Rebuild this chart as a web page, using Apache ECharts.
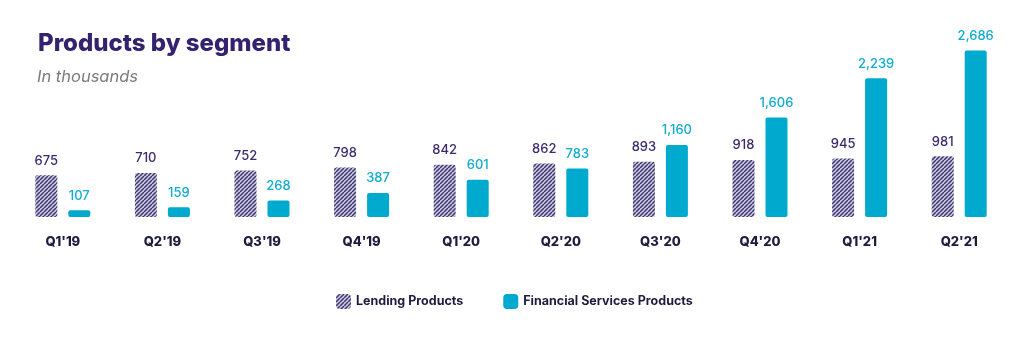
<!DOCTYPE html>
<html>
<head>
<meta charset="utf-8">
<script src="https://cdn.jsdelivr.net/npm/echarts@6/dist/echarts.min.js"></script>
<style>
  html, body { margin: 0; padding: 0; background: #fff; }
  #chart { width: 1033px; height: 354px; }
</style>
</head>
<body>
<div id="chart"></div>
<script>
const quarters = ["Q1'19", "Q2'19", "Q3'19", "Q4'19", "Q1'20", "Q2'20", "Q3'20", "Q4'20", "Q1'21", "Q2'21"];
const lending = [675, 710, 752, 798, 842, 862, 893, 918, 945, 981];
const financial = [107, 159, 268, 387, 601, 783, 1160, 1606, 2239, 2686];

// striped fill for lending bars
function makeStripes() {
  const s = 4;
  const c = document.createElement("canvas");
  c.width = s;
  c.height = s;
  const ctx = c.getContext("2d");
  ctx.fillStyle = "#cfcde0";
  ctx.fillRect(0, 0, s, s);
  ctx.strokeStyle = "#3e3673";
  ctx.lineWidth = 1.5;
  for (let i = -s; i <= 2 * s; i += s) {
    ctx.beginPath();
    ctx.moveTo(i, s);
    ctx.lineTo(i + s, 0);
    ctx.stroke();
  }
  return c;
}
const stripes = { image: makeStripes(), repeat: "repeat" };

const fmt = (p) => p.value.toLocaleString("en-US");

const chart = echarts.init(document.getElementById("chart"), null, { renderer: "canvas" });
chart.setOption({
  animation: false,
  title: [
    {
      text: "Products by segment",
      left: 33,
      top: 27,
      textStyle: { fontFamily: "Inter", fontWeight: 800, fontSize: 24, color: "#35226f" },
    },
    {
      text: "In thousands",
      left: 32,
      top: 64,
      textStyle: { fontFamily: "Inter", fontStyle: "italic", fontWeight: 400, fontSize: 16.5, color: "#7a7a80" },
    },
  ],
  legend: {
    bottom: 40,
    left: 331,
    itemWidth: 15,
    itemHeight: 15,
    itemGap: 40,
    textStyle: { fontFamily: "Inter", fontWeight: 700, fontSize: 12.5, color: "#1d1b3e" },
    data: [
      { name: "Lending Products", itemStyle: { color: stripes } },
      { name: "Financial Services Products" },
    ],
  },
  grid: { left: 13, right: 24, top: 31, bottom: 137 },
  xAxis: {
    type: "category",
    data: quarters,
    axisLine: { show: false },
    axisTick: { show: false },
    axisLabel: { margin: 19, fontFamily: "Inter", fontWeight: 800, fontSize: 13, color: "#1d1b3e" },
  },
  yAxis: { type: "value", min: 0, max: 3000, show: false, splitLine: { show: false } },
  series: [
    {
      name: "Lending Products",
      type: "bar",
      data: lending,
      barWidth: 22,
      barGap: "50%",
      itemStyle: { color: stripes, borderRadius: 2 },
      label: { show: true, position: "top", distance: 8, formatter: fmt, fontFamily: "Inter", fontWeight: 500, fontSize: 13, color: "#3b2b6e" },
    },
    {
      name: "Financial Services Products",
      type: "bar",
      data: financial,
      barWidth: 22,
      itemStyle: { color: "#00a9ce", borderRadius: 2 },
      label: { show: true, position: "top", distance: 8, formatter: fmt, fontFamily: "Inter", fontWeight: 500, fontSize: 13, color: "#12acd0" },
    },
  ],
});
</script>
</body>
</html>
